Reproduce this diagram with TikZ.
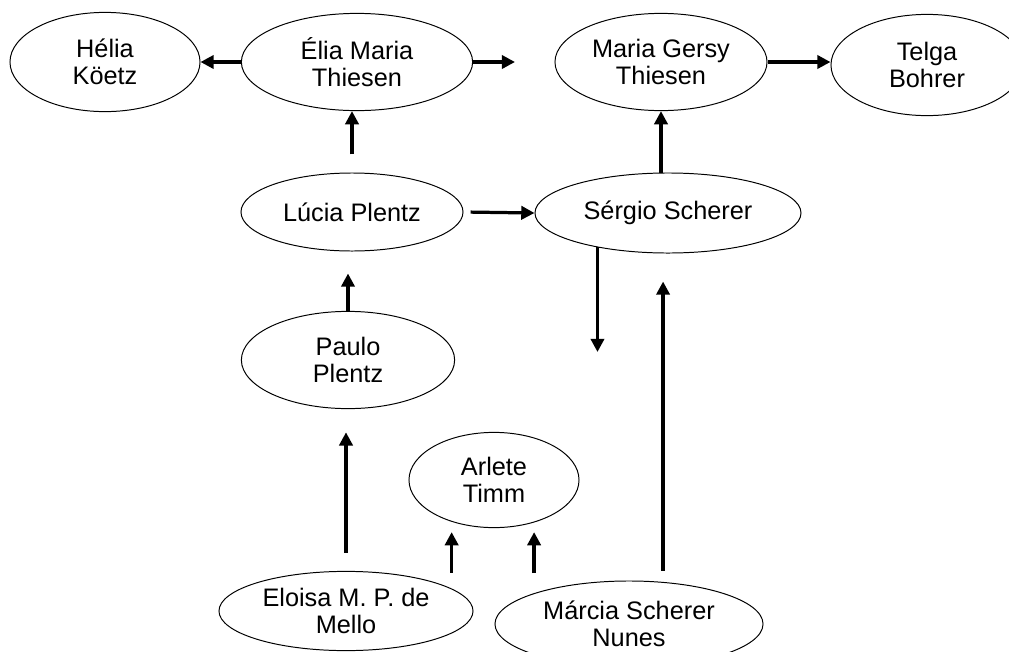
\documentclass[tikz,border=0pt]{standalone}
\usepackage{fontspec}
\setmainfont{Liberation Sans}
\usepackage{tikz}
\usetikzlibrary{arrows.meta,calc,positioning,shapes.geometric}

\tikzset{
    persona/.style={draw, ellipse, line width=0.7pt, inner sep=0pt, align=center,
        font=\fontsize{18}{19.5}\selectfont},
    linkarrow/.style={line width=2.3pt, -{Triangle[length=0.33cm,width=0.33cm]}},
    boldarrow/.style={linkarrow, line width=3pt}
}

\begin{document}
\begin{tikzpicture}[x=0.025cm, y=-0.025cm]
            \useasboundingbox (0,0) rectangle (1009,652);

            % Riga in alto
            \node[persona, minimum width=4.75cm, minimum height=2.48cm] (helia) at (105,62) {Hélia\\Köetz};
            \node[persona, minimum width=5.78cm, minimum height=2.43cm] (elia) at (357,62) {Élia Maria\\Thiesen};
            \node[persona, minimum width=5.3cm, minimum height=2.43cm] (gersy) at (661,62) {Maria Gersy\\Thiesen};
            \node[persona, minimum width=4.8cm, minimum height=2.53cm] (telga) at (927,65) {Telga\\Bohrer};
            \coordinate (eliaout) at (515,62);

            % Riga centrale
            \node[persona, minimum width=5.55cm, minimum height=1.95cm] (lucia) at (352,212) {Lúcia Plentz};
            \node[persona, minimum width=6.65cm, minimum height=2.0cm] (sergio) at (668,213) {Sérgio Scherer};
            \node[persona, minimum width=5.33cm, minimum height=2.43cm] (paulo) at (348,360) {Paulo\\Plentz};
            \coordinate (sergiodown) at (599,352);

            % Riga in basso
            \node[persona, minimum width=4.25cm, minimum height=2.38cm] (arlete) at (494,480) {Arlete\\Timm};
            \node[persona, minimum width=6.35cm, minimum height=1.98cm] (eloisa) at (346,611) {Eloisa M. P. de\\Mello};
            \node[persona, minimum width=6.7cm, minimum height=2.15cm] (marcia) at (629,624) {Márcia Scherer\\Nunes};

            % Frecce in alto
            \draw[linkarrow] (elia.west) -- (helia.east);
            \draw[boldarrow] (elia.east) -- (eliaout);
            \draw[boldarrow] (gersy.east) -- (gersy.east -| telga.west);

            % Frecce centrali
            \draw[linkarrow, shorten <=0.45cm] (lucia.north) -- (lucia.north |- elia.south);
            \draw[linkarrow] (gersy.south |- sergio.north) -- (gersy.south);
            \draw[linkarrow, shorten <=0.18cm] (lucia.east) -- (sergio.west);
            \draw[linkarrow] (sergio.-154) -- (sergio.-154 |- sergiodown);
            \draw[linkarrow, shorten >=0.55cm] (paulo.north) -- (paulo.north |- lucia.south);

            % Frecce dal basso
            \draw[linkarrow, shorten <=0.45cm, shorten >=0.58cm] (eloisa.north) -- (eloisa.north |- paulo.south);
            \draw[linkarrow, shorten <=0.4cm, shorten >=0.1cm] (eloisa.12) -- (eloisa.12 |- arlete.south);
            \draw[linkarrow, shorten <=0.5cm, shorten >=0.1cm] (marcia.162) -- (marcia.162 |- arlete.south);
            \draw[linkarrow, shorten <=0.28cm, shorten >=0.7cm] (marcia.51) -- (marcia.51 |- sergio.south);
        \end{tikzpicture}
\end{document}
